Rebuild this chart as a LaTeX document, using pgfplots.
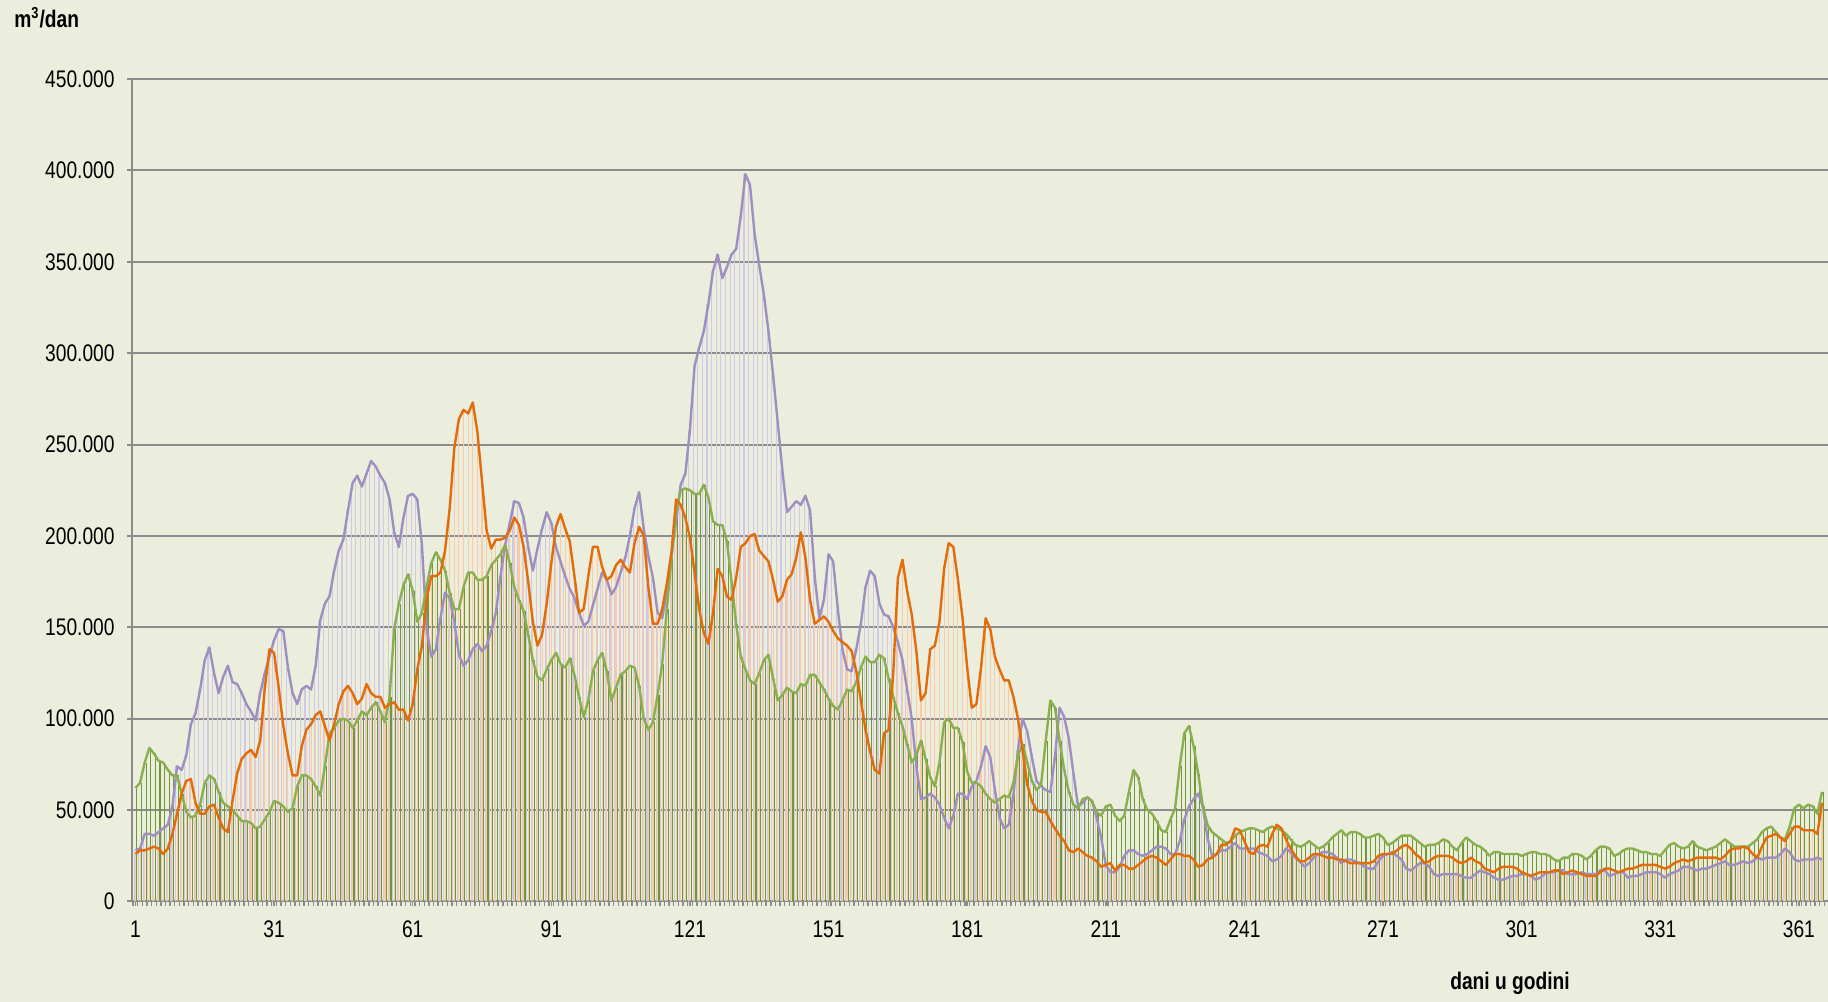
\documentclass[border=0pt]{standalone}
\usepackage{fontspec}
\setmainfont{Liberation Sans}[FakeStretch=0.8]
\usepackage{pgfplots}
\usepackage{pgfplotstable}
\pgfplotsset{compat=1.18}
\definecolor{bg}{RGB}{235,238,221}
\definecolor{gridc}{RGB}{140,140,140}
\definecolor{purl}{RGB}{158,143,192}
\definecolor{lavb}{RGB}{208,200,228}
\definecolor{oral}{RGB}{226,107,10}
\definecolor{peachb}{RGB}{250,202,164}
\definecolor{grel}{RGB}{137,175,80}
\definecolor{greb}{RGB}{112,152,52}
\pgfplotstableread{
d p o g
1 28 26 62
2 29 28 65
3 37 28 76
4 37 29 84
5 36 30 81
6 38 29 77
7 40 26 76
8 42 29 72
9 52 37 69
10 74 48 69
11 72 59 59
12 80 66 49
13 97 67 46
14 103 54 47
15 116 48 53
16 132 48 65
17 139 52 69
18 125 53 67
19 114 46 60
20 123 40 54
21 129 38 52
22 120 55 50
23 119 70 47
24 114 78 44
25 108 81 44
26 104 83 43
27 99 79 40
28 114 88 41
29 125 117 45
30 134 138 49
31 143 136 55
32 149 117 54
33 148 96 52
34 128 81 49
35 114 69 51
36 108 69 63
37 116 85 69
38 118 94 69
39 116 97 67
40 129 102 63
41 154 104 58
42 163 96 74
43 167 88 92
44 181 97 95
45 192 108 99
46 198 115 100
47 214 118 99
48 229 114 95
49 233 108 99
50 227 111 104
51 234 119 102
52 241 114 106
53 238 112 109
54 233 112 104
55 229 106 98
56 220 108 112
57 202 109 149
58 194 105 163
59 210 105 173
60 222 99 179
61 223 108 170
62 220 127 153
63 195 140 158
64 150 165 172
65 134 178 185
66 138 178 191
67 155 180 187
68 169 192 181
69 166 215 169
70 153 248 160
71 135 264 160
72 129 269 172
73 132 267 180
74 138 273 180
75 141 257 176
76 137 230 176
77 140 203 178
78 148 193 184
79 158 198 187
80 178 198 190
81 195 199 195
82 207 203 185
83 219 210 172
84 218 206 165
85 210 194 159
86 194 175 146
87 181 153 132
88 193 140 123
89 204 146 121
90 213 163 127
91 207 185 132
92 194 205 136
93 186 212 130
94 178 204 128
95 171 197 133
96 166 178 124
97 158 158 112
98 151 160 101
99 153 178 110
100 162 194 126
101 171 194 132
102 180 183 136
103 176 176 126
104 168 178 110
105 172 184 117
106 180 187 124
107 188 183 126
108 200 180 129
109 215 196 128
110 224 205 118
111 204 200 100
112 189 172 94
113 177 152 98
114 158 152 113
115 155 160 130
116 170 174 160
117 190 191 188
118 208 220 213
119 228 217 225
120 234 210 226
121 258 199 225
122 293 180 223
123 303 160 223
124 312 147 228
125 327 141 221
126 345 158 208
127 354 182 206
128 341 178 206
129 347 167 197
130 354 165 175
131 357 177 152
132 375 194 134
133 398 196 127
134 392 200 121
135 365 201 119
136 348 192 125
137 332 189 132
138 312 186 135
139 288 176 122
140 262 164 110
141 236 167 113
142 213 176 117
143 216 179 115
144 219 188 114
145 217 202 119
146 222 188 118
147 214 165 124
148 178 152 124
149 155 154 120
150 165 156 116
151 190 153 111
152 186 148 107
153 160 144 105
154 138 142 110
155 127 140 116
156 126 137 115
157 138 126 120
158 152 110 128
159 172 94 134
160 181 82 131
161 178 72 131
162 163 70 135
163 157 92 133
164 156 94 122
165 150 125 112
166 142 177 103
167 132 187 96
168 116 170 86
169 100 157 76
170 74 137 80
171 56 110 88
172 57 114 78
173 59 138 68
174 57 140 63
175 53 153 76
176 46 182 98
177 40 196 100
178 47 194 95
179 59 176 95
180 59 155 87
181 56 128 71
182 63 106 65
183 66 108 65
184 74 128 63
185 85 155 59
186 79 149 56
187 61 134 54
188 46 127 56
189 40 121 58
190 42 121 57
191 58 112 65
192 83 100 80
193 100 83 86
194 93 64 76
195 79 55 66
196 66 50 61
197 63 49 64
198 61 49 88
199 60 44 110
200 79 40 106
201 106 36 88
202 101 33 72
203 89 28 60
204 70 27 53
205 52 29 51
206 54 27 56
207 57 25 57
208 55 24 55
209 46 22 49
210 35 19 47
211 20 20 52
212 16 21 53
213 16 17 47
214 19 20 44
215 25 20 47
216 28 18 60
217 28 18 72
218 26 20 68
219 25 22 56
220 26 24 50
221 28 25 48
222 30 24 44
223 30 22 39
224 29 20 38
225 26 23 45
226 26 26 51
227 33 26 74
228 45 25 92
229 52 25 96
230 56 23 85
231 59 19 70
232 52 20 52
233 35 23 42
234 25 24 38
235 26 26 36
236 28 31 34
237 28 31 32
238 30 33 33
239 32 40 36
240 29 39 38
241 29 33 39
242 29 27 40
243 29 26 40
244 27 30 39
245 26 31 38
246 25 30 40
247 22 37 41
248 23 42 40
249 25 40 39
250 29 34 37
251 27 29 34
252 24 25 31
253 22 22 30
254 19 22 31
255 21 24 33
256 24 26 31
257 26 26 29
258 27 25 30
259 27 24 32
260 26 24 35
261 24 23 37
262 21 23 39
263 23 22 36
264 23 21 38
265 22 21 38
266 21 21 37
267 19 21 35
268 18 21 35
269 18 22 36
270 22 25 37
271 25 26 35
272 26 26 31
273 27 26 32
274 25 28 34
275 23 30 36
276 18 31 36
277 17 29 36
278 19 26 34
279 21 24 32
280 21 21 30
281 19 22 31
282 15 24 31
283 14 25 32
284 15 25 34
285 15 25 33
286 15 24 30
287 15 22 28
288 14 21 32
289 13 22 35
290 13 24 33
291 15 22 31
292 17 21 30
293 16 18 28
294 15 17 25
295 13 16 27
296 12 18 27
297 12 19 26
298 13 19 26
299 14 19 26
300 14 18 26
301 15 16 25
302 15 15 26
303 14 14 27
304 12 15 27
305 13 16 26
306 15 16 26
307 16 16 25
308 16 17 23
309 17 17 22
310 17 15 24
311 15 16 24
312 15 17 26
313 15 16 26
314 16 15 25
315 15 14 23
316 15 14 25
317 15 14 28
318 17 16 30
319 17 18 30
320 14 18 29
321 15 17 25
322 16 16 26
323 16 17 28
324 13 18 29
325 14 18 29
326 14 19 28
327 15 20 27
328 16 20 27
329 16 20 26
330 16 20 26
331 15 19 25
332 13 18 28
333 15 19 31
334 16 21 32
335 17 22 30
336 19 23 29
337 19 22 30
338 18 23 33
339 17 24 30
340 18 24 29
341 18 24 28
342 19 24 29
343 20 24 30
344 21 23 32
345 22 25 34
346 20 28 32
347 20 29 30
348 21 29 30
349 22 30 30
350 21 29 30
351 22 26 32
352 24 24 34
353 23 30 38
354 24 35 40
355 24 36 41
356 24 37 38
357 26 35 35
358 29 33 34
359 27 37 41
360 23 41 51
361 22 41 53
362 23 39 51
363 23 39 53
364 23 39 52
365 24 37 48
366 23 54 60
}\data
\begin{document}
\fontsize{12}{14}\selectfont
\begin{tikzpicture}
\path[use as bounding box, fill=bg] (0pt,0pt) rectangle (914pt,501pt);
\begin{axis}[
  at={(66pt,50.25pt)}, anchor=south west,
  scale only axis, width=848pt, height=411.25pt,
  xmin=0.25, xmax=367.3, ymin=0, ymax=450,
  axis x line*=bottom, axis y line*=left,
  axis line style={-, draw=gridc, line width=1pt},
  ymajorgrids, major grid style={draw=gridc, line width=1pt},
  ytick={0,50,...,450},
  yticklabels={0,50.000,100.000,150.000,200.000,250.000,300.000,350.000,400.000,450.000},
  xtick={1,31,61,91,121,151,181,211,241,271,301,331,361},
  xticklabels={1,31,61,91,121,151,181,211,241,271,301,331,361},
  minor xtick={0.5,1.5,...,366.5},
  tick align=outside,
  major tick length=2.5pt, minor tick length=2.5pt,
  tick style={draw=gridc, line width=0.7pt},
  ytick style={draw=gridc, line width=1pt},
  yticklabel style={xshift=-2pt},
  xticklabel style={yshift=-3pt},
  clip=true,
]
\addplot[ycomb, draw=lavb, line width=0.55pt, mark=none] table[x expr=\thisrow{d}-0.3, y=p]{\data};
\addplot[ycomb, draw=peachb, line width=0.55pt, mark=none] table[x expr=\thisrow{d}, y=o]{\data};
\addplot[ycomb, draw=greb, line width=0.55pt, mark=none] table[x expr=\thisrow{d}+0.3, y=g]{\data};
\addplot[draw=purl, line width=1.2pt, line join=round, mark=none] table[x=d, y=p]{\data};
\addplot[draw=grel, line width=1.2pt, line join=round, mark=none] table[x=d, y=g]{\data};
\addplot[draw=oral, line width=1.2pt, line join=round, mark=none] table[x=d, y=o]{\data};
\end{axis}
\node[anchor=west, font=\bfseries] at (3pt,492pt) {m\textsuperscript{3}/dan};
\node[font=\bfseries] at (755pt,9.5pt) {dani u godini};
\end{tikzpicture}
\end{document}
